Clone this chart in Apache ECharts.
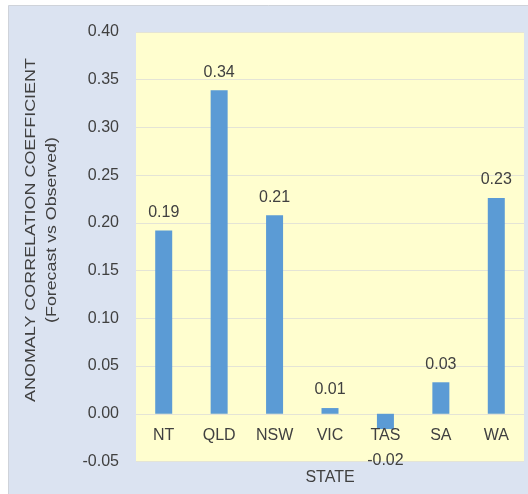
<!DOCTYPE html>
<html>
<head>
<meta charset="utf-8">
<script src="https://cdn.jsdelivr.net/npm/echarts@6/dist/echarts.min.js"></script>
<style>
  html, body { margin: 0; padding: 0; background: #ffffff; }
  #chart { width: 528px; height: 494px; }
</style>
</head>
<body>
<div id="chart"></div>
<script>
// Anomaly correlation coefficient by state
const states = ['NT', 'QLD', 'NSW', 'VIC', 'TAS', 'SA', 'WA'];
const accValues = [0.192, 0.339, 0.208, 0.006, -0.016, 0.033, 0.226];
const yMin = -0.05;
const yMax = 0.40;
const yStep = 0.05;

const FONT = 'Liberation Sans, Arial, sans-serif';
const TEXT = '#404040';
const FS = 16;

const CHART_H = 494;
const GRID_TOP = 32;
const GRID_BOTTOM = 32.5;
const gridHeight = CHART_H - GRID_TOP - GRID_BOTTOM;
// lift the category axis from the grid bottom up to the zero line
const zeroLift = gridHeight * (0 - yMin) / (yMax - yMin);

const chart = echarts.init(document.getElementById('chart'), null, { renderer: 'canvas' });

const barData = accValues.map(function (v) {
  if (v < 0) {
    return { value: v, label: { position: 'bottom', distance: 24 } };
  }
  return v;
});

chart.setOption({
  backgroundColor: '#ffffff',
  animation: false,
  graphic: [
    {
      type: 'rect',
      z: -10,
      shape: { x: 8.5, y: 5.5, width: 530, height: 500 },
      style: { fill: '#dbe3f1', stroke: '#cfd3da', lineWidth: 1 }
    },
    {
      type: 'text',
      x: 31, y: 230,
      rotation: Math.PI / 2,
      scaleX: 1.28,
      style: {
        text: 'ANOMALY CORRELATION COEFFICIENT',
        font: '14px ' + FONT,
        fill: TEXT,
        align: 'center',
        verticalAlign: 'middle'
      }
    },
    {
      type: 'text',
      x: 52, y: 230,
      rotation: Math.PI / 2,
      scaleX: 1.27,
      style: {
        text: '(Forecast vs Observed)',
        font: '14px ' + FONT,
        fill: TEXT,
        align: 'center',
        verticalAlign: 'middle'
      }
    }
  ],
  grid: {
    left: 136,
    right: 4,
    top: GRID_TOP,
    bottom: GRID_BOTTOM,
    outerBoundsMode: 'none',
    containLabel: false,
    show: true,
    backgroundColor: '#fffecf',
    borderWidth: 0
  },
  xAxis: {
    type: 'category',
    data: states,
    z: 5,
    offset: -zeroLift,
    name: 'STATE',
    nameLocation: 'middle',
    nameGap: 56,
    nameTextStyle: { color: TEXT, fontSize: FS, fontFamily: FONT },
    axisLine: { show: false, onZero: false },
    axisTick: { show: false },
    axisLabel: { color: TEXT, fontSize: FS, fontFamily: FONT, margin: 14 },
    splitLine: { show: false }
  },
  yAxis: {
    type: 'value',
    min: yMin,
    max: yMax,
    interval: yStep,
    axisLine: { show: false },
    axisTick: { show: false },
    axisLabel: {
      color: TEXT,
      fontSize: FS,
      fontFamily: FONT,
      margin: 17,
      padding: [4, 0, 0, 0],
      formatter: function (v) { return v.toFixed(2); }
    },
    splitLine: { lineStyle: { color: '#e4e4d6', width: 1 } }
  },
  series: [
    {
      type: 'bar',
      data: barData,
      barWidth: 17,
      itemStyle: { color: '#5b9bd5' },
      label: {
        show: true,
        position: 'top',
        distance: 10,
        color: TEXT,
        fontSize: FS,
        fontFamily: FONT,
        formatter: function (p) { return p.value.toFixed(2); }
      }
    }
  ]
});
</script>
</body>
</html>
